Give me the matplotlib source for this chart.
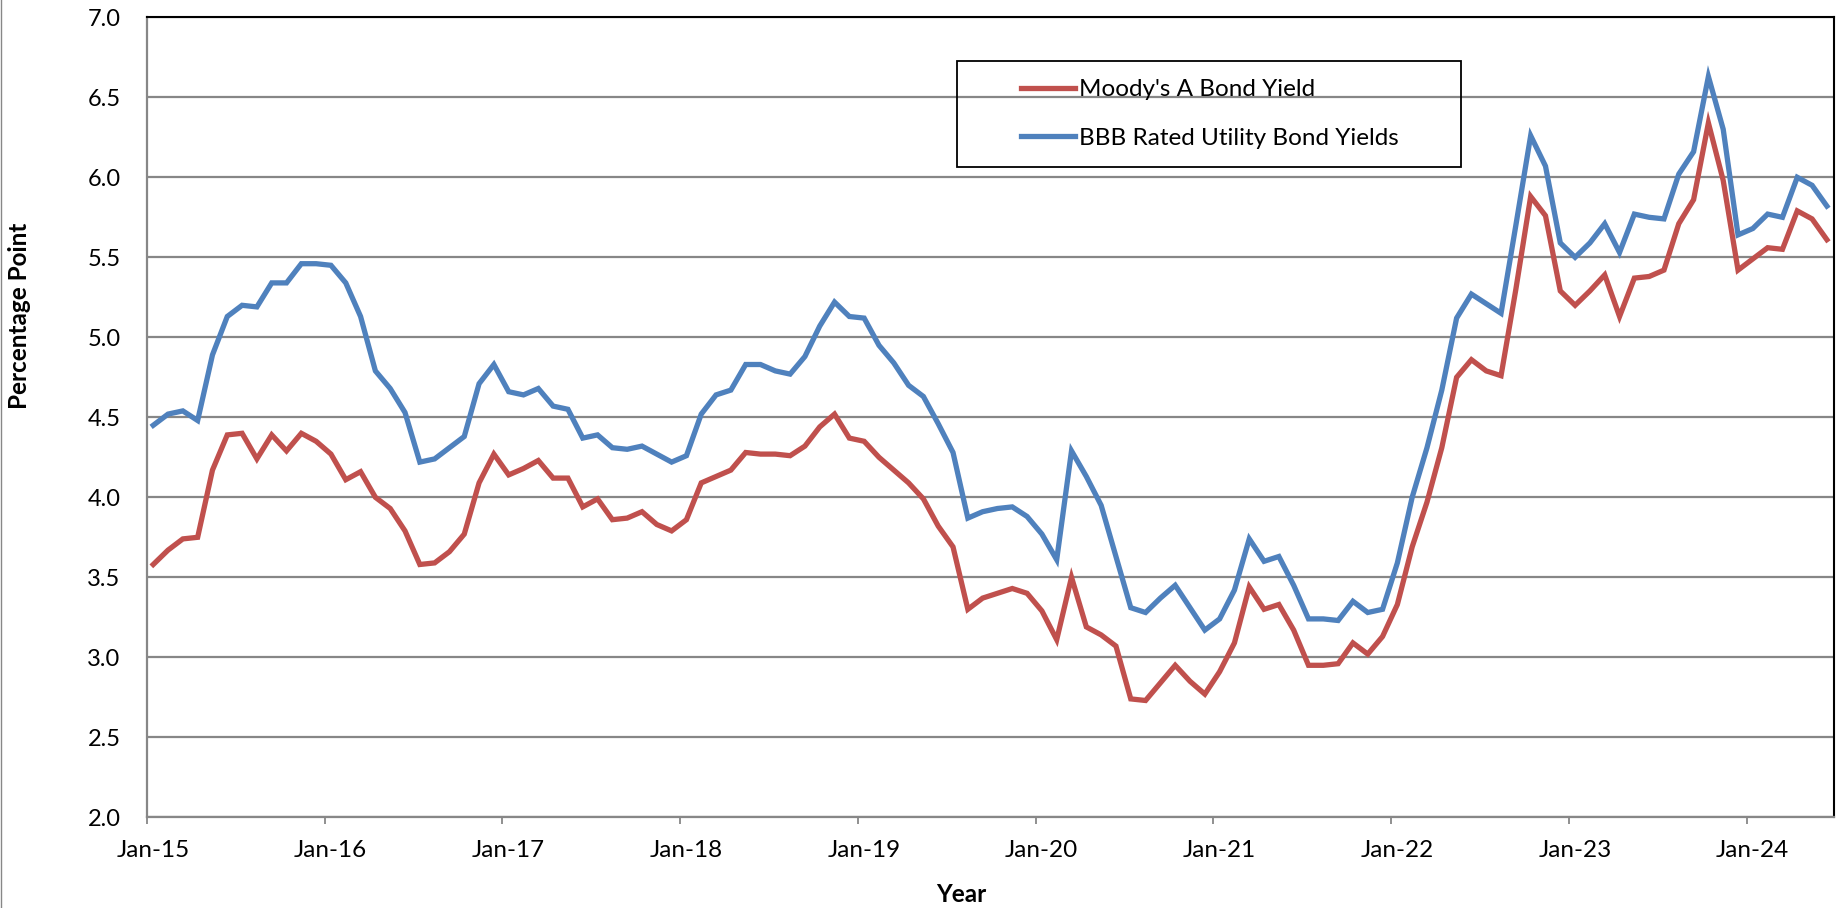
import matplotlib
matplotlib.use("Agg")
import matplotlib.pyplot as plt
from matplotlib.patches import Rectangle
from matplotlib.transforms import ScaledTranslation

# Monthly yields, Jan 2015 - Jun 2024 (percent)
moodys_a = [
    3.58, 3.67, 3.74, 3.75, 4.17, 4.39, 4.40, 4.24, 4.39, 4.29, 4.40, 4.35,
    4.27, 4.11, 4.16, 4.00, 3.93, 3.79, 3.58, 3.59, 3.66, 3.77, 4.09, 4.27,
    4.14, 4.18, 4.23, 4.12, 4.12, 3.94, 3.99, 3.86, 3.87, 3.91, 3.83, 3.79,
    3.86, 4.09, 4.13, 4.17, 4.28, 4.27, 4.27, 4.26, 4.32, 4.44, 4.52, 4.37,
    4.35, 4.25, 4.17, 4.09, 3.99, 3.82, 3.69, 3.30, 3.37, 3.40, 3.43, 3.40,
    3.29, 3.11, 3.50, 3.19, 3.14, 3.07, 2.74, 2.73, 2.84, 2.95, 2.85, 2.77,
    2.91, 3.09, 3.44, 3.30, 3.33, 3.17, 2.95, 2.95, 2.96, 3.09, 3.02, 3.13,
    3.33, 3.69, 3.97, 4.31, 4.75, 4.86, 4.79, 4.76, 5.30, 5.88, 5.76, 5.29,
    5.20, 5.29, 5.39, 5.13, 5.37, 5.38, 5.42, 5.71, 5.86, 6.34, 5.98, 5.42,
    5.49, 5.56, 5.55, 5.79, 5.74, 5.61,
]
bbb_utility = [
    4.45, 4.52, 4.54, 4.48, 4.89, 5.13, 5.20, 5.19, 5.34, 5.34, 5.46, 5.46,
    5.45, 5.34, 5.13, 4.79, 4.68, 4.53, 4.22, 4.24, 4.31, 4.38, 4.71, 4.83,
    4.66, 4.64, 4.68, 4.57, 4.55, 4.37, 4.39, 4.31, 4.30, 4.32, 4.27, 4.22,
    4.26, 4.52, 4.64, 4.67, 4.83, 4.83, 4.79, 4.77, 4.88, 5.07, 5.22, 5.13,
    5.12, 4.95, 4.84, 4.70, 4.63, 4.46, 4.28, 3.87, 3.91, 3.93, 3.94, 3.88,
    3.77, 3.61, 4.29, 4.13, 3.95, 3.63, 3.31, 3.28, 3.37, 3.45, 3.31, 3.17,
    3.24, 3.42, 3.74, 3.60, 3.63, 3.45, 3.24, 3.24, 3.23, 3.35, 3.28, 3.30,
    3.59, 4.00, 4.31, 4.67, 5.12, 5.27, 5.21, 5.15, 5.70, 6.26, 6.07, 5.59,
    5.50, 5.59, 5.71, 5.53, 5.77, 5.75, 5.74, 6.02, 6.16, 6.63, 6.30, 5.64,
    5.68, 5.77, 5.75, 6.00, 5.95, 5.82,
]
year_labels = ["Jan-15", "Jan-16", "Jan-17", "Jan-18", "Jan-19",
               "Jan-20", "Jan-21", "Jan-22", "Jan-23", "Jan-24"]
series_names = ["Moody's A Bond Yield", "BBB Rated Utility Bond Yields"]

RED = "#C0504D"
BLUE = "#4F81BD"
GRID = "#878787"
FONT = "Lato"

plt.rcParams["font.family"] = [FONT, "DejaVu Sans"]

fig = plt.figure(figsize=(18.36, 9.08), dpi=100)
ax = fig.add_axes([147 / 1836, 1 - 817.3 / 908, (1834 - 147) / 1836, 800 / 908])

# observations sit mid-month, year ticks on the first of January
months = [i + 0.42 for i in range(len(moodys_a))]
ax.plot(months, bbb_utility, color=BLUE, lw=3.8, solid_joinstyle="miter",
        label=series_names[1], zorder=3)
ax.plot(months, moodys_a, color=RED, lw=3.8, solid_joinstyle="miter",
        label=series_names[0], zorder=4)

ax.set_xlim(0, 113.9)
ax.set_ylim(2.0, 7.0)
ax.set_xticks([12 * k for k in range(len(year_labels))])
ax.set_xticklabels(year_labels)
ax.set_yticks([2.0 + 0.5 * k for k in range(11)])
ax.set_yticklabels([f"{2.0 + 0.5 * k:.1f}" for k in range(11)])

ax.grid(axis="y", color=GRID, lw=1.6, zorder=1)
ax.set_axisbelow(True)
# plot-area frame: black on top/right, grey value and category axes
for side in ("top", "right"):
    ax.spines[side].set_color("black")
    ax.spines[side].set_linewidth(1.5)
for side in ("left", "bottom"):
    ax.spines[side].set_color(GRID)
    ax.spines[side].set_linewidth(1.6)

ax.tick_params(axis="y", length=0, pad=19, labelsize=17, labelcolor="black")
ax.tick_params(axis="x", length=5, width=1.3, color=GRID, pad=11,
               labelsize=17.5, labelcolor="black")
shift = ScaledTranslation(6 / 100, 0, fig.dpi_scale_trans)
for lbl in ax.get_xticklabels():
    lbl.set_transform(lbl.get_transform() + shift)

fig.text(20 / 1836, 1 - 316 / 908, "Percentage Point", rotation=90,
         ha="center", va="center", fontsize=17.5, fontweight="bold")
fig.text(961 / 1836, 1 - 895 / 908, "Year", ha="center", va="center",
         fontsize=17.5, fontweight="bold")

# legend: transparent box with a thin black frame
fig.patches.append(Rectangle((957 / 1836, 1 - 167 / 908), 504 / 1836, 106 / 908,
                             transform=fig.transFigure, fill=False,
                             edgecolor="black", lw=1.3, zorder=10))
handles, labels = ax.get_legend_handles_labels()
leg = ax.legend(handles[::-1], labels[::-1], loc="center left",
                bbox_to_anchor=(1021 / 1836, 1 - 114 / 908),
                bbox_transform=fig.transFigure, frameon=False, fontsize=17.5,
                handlelength=2.22, handletextpad=0.15, labelspacing=1.15,
                borderpad=0, borderaxespad=0)

# chart-area edge on the left
fig.add_artist(plt.Line2D([0.5 / 1836, 0.5 / 1836], [0, 1],
                          transform=fig.transFigure, color=GRID, lw=1.0))

fig.savefig("out.png", dpi=100)
